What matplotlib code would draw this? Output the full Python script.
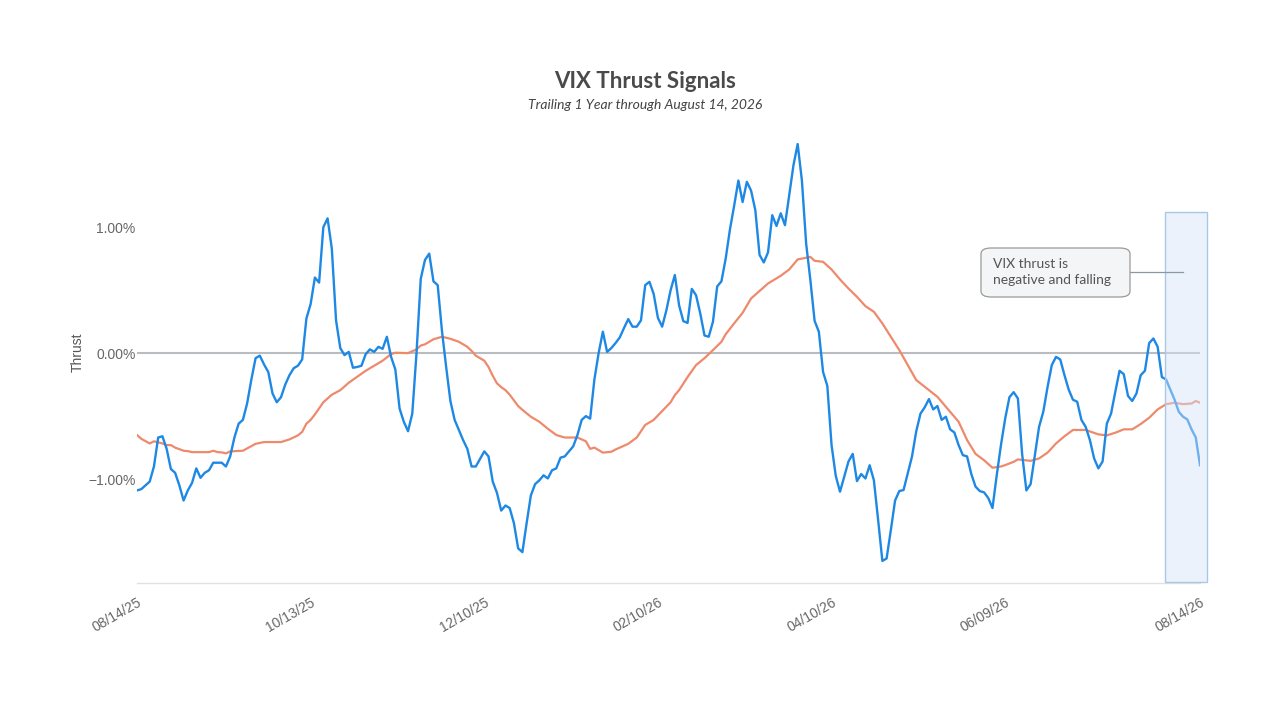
import matplotlib
matplotlib.use("Agg")
import matplotlib.pyplot as plt
from matplotlib.patches import Rectangle, FancyBboxPatch
from matplotlib.lines import Line2D
from matplotlib.ticker import FuncFormatter

# ---------------- data ----------------
tick_idx = [0, 41, 82, 123, 164, 205, 251]
tick_labels = ["08/14/25", "10/13/25", "12/10/25", "02/10/26", "04/10/26", "06/09/26", "08/14/26"]

thrust = [
    -1.09, -1.08, -1.05, -1.02, -0.90, -0.67, -0.66, -0.76, -0.92, -0.95,
    -1.05, -1.17, -1.09, -1.03, -0.915, -0.99, -0.95, -0.93, -0.87, -0.87,
    -0.87, -0.90, -0.82, -0.67, -0.56, -0.53, -0.40, -0.21, -0.04, -0.02,
    -0.09, -0.15, -0.32, -0.39, -0.35, -0.25, -0.175, -0.12, -0.10, -0.05,
    0.275, 0.39, 0.60, 0.56, 1.00, 1.07, 0.83, 0.26, 0.04, -0.016,
    0.01, -0.116, -0.11, -0.10, -0.008, 0.03, 0.01, 0.05, 0.034, 0.13,
    -0.03, -0.13, -0.44, -0.545, -0.62, -0.48, 0.0, 0.59, 0.74, 0.79,
    0.57, 0.54, 0.18, -0.11, -0.38, -0.53, -0.61, -0.69, -0.76, -0.90,
    -0.90, -0.84, -0.78, -0.82, -1.02, -1.11, -1.25, -1.21, -1.23, -1.35,
    -1.55, -1.58, -1.35, -1.13, -1.04, -1.01, -0.97, -0.995, -0.93, -0.915,
    -0.83, -0.82, -0.78, -0.74, -0.65, -0.53, -0.50, -0.52, -0.21, 0.0,
    0.17, 0.01, 0.04, 0.08, 0.125, 0.20, 0.27, 0.21, 0.21, 0.26,
    0.54, 0.566, 0.47, 0.28, 0.21, 0.34, 0.50, 0.62, 0.38, 0.254,
    0.24, 0.51, 0.46, 0.315, 0.14, 0.13, 0.25, 0.53, 0.57, 0.75,
    0.98, 1.17, 1.37, 1.20, 1.36, 1.29, 1.135, 0.78, 0.72, 0.80,
    1.095, 1.01, 1.11, 1.016, 1.25, 1.49, 1.66, 1.37, 0.87, 0.58,
    0.256, 0.17, -0.15, -0.26, -0.73, -0.976, -1.10, -0.98, -0.86, -0.80,
    -1.016, -0.96, -0.995, -0.89, -1.01, -1.325, -1.65, -1.63, -1.405, -1.17,
    -1.095, -1.087, -0.955, -0.82, -0.62, -0.48, -0.43, -0.365, -0.447, -0.42,
    -0.53, -0.505, -0.605, -0.63, -0.73, -0.81, -0.82, -0.96, -1.06, -1.095,
    -1.105, -1.15, -1.23, -0.97, -0.73, -0.52, -0.35, -0.31, -0.36, -0.80,
    -1.09, -1.04, -0.81, -0.585, -0.465, -0.27, -0.095, -0.03, -0.05, -0.175,
    -0.29, -0.37, -0.386, -0.53, -0.585, -0.69, -0.836, -0.915, -0.86, -0.56,
    -0.48, -0.307, -0.14, -0.167, -0.34, -0.38, -0.32, -0.175, -0.14, 0.08,
    0.116, 0.05, -0.19, -0.21, -0.29, -0.37, -0.466, -0.505, -0.526, -0.605,
    -0.67, -0.89,
]
thrust_idx = list(range(len(thrust)))

avg_idx = [
    0, 1, 3, 4, 6, 7, 8, 9, 11, 12, 13, 17, 18, 19, 20, 21, 22, 25, 27, 28,
    30, 34, 36, 38, 39, 40, 41, 42, 44, 46, 48, 50, 52, 54, 56, 58, 60, 61, 64, 66,
    67, 68, 70, 72, 74, 76, 78, 79, 80, 82, 83, 84, 85, 86, 87, 88, 90, 91, 93, 95,
    97, 99, 101, 104, 106, 107, 108, 110, 112, 113, 116, 118, 120, 122, 124, 126, 127, 128, 130, 132,
    134, 136, 138, 139, 141, 143, 145, 147, 149, 152, 154, 156, 159, 160, 162, 164, 166, 168, 170, 172,
    174, 176, 178, 180, 182, 184, 187, 189, 191, 194, 196, 198, 200, 202, 204, 205, 207, 208, 211, 213,
    215, 217, 219, 221, 224, 227, 229, 231, 233, 235, 237, 239, 241, 243, 245, 247, 249, 250, 251,
]
avg = [
    -0.65, -0.68, -0.717, -0.70, -0.717, -0.73, -0.73, -0.75, -0.775, -0.778, -0.786, -0.786, -0.775, -0.786, -0.788, -0.796, -0.78, -0.775, -0.738, -0.72,
    -0.706, -0.706, -0.685, -0.653, -0.625, -0.56, -0.53, -0.487, -0.39, -0.33, -0.294, -0.235, -0.188, -0.14, -0.10, -0.06, -0.008, 0.003, 0.0, 0.03,
    0.06, 0.07, 0.11, 0.13, 0.114, 0.09, 0.05, 0.018, -0.02, -0.06, -0.11, -0.18, -0.24, -0.27, -0.294, -0.33, -0.42, -0.45, -0.505, -0.545,
    -0.60, -0.65, -0.67, -0.67, -0.70, -0.76, -0.75, -0.79, -0.783, -0.765, -0.72, -0.67, -0.57, -0.53, -0.46, -0.39, -0.333, -0.294, -0.19, -0.095,
    -0.04, 0.024, 0.09, 0.15, 0.236, 0.32, 0.434, 0.494, 0.553, 0.614, 0.664, 0.744, 0.764, 0.733, 0.725, 0.664, 0.585, 0.513, 0.447, 0.373,
    0.328, 0.236, 0.13, 0.024, -0.095, -0.214, -0.294, -0.347, -0.426, -0.545, -0.69, -0.80, -0.85, -0.91, -0.90, -0.889, -0.863, -0.844, -0.855, -0.836,
    -0.79, -0.717, -0.66, -0.61, -0.61, -0.645, -0.653, -0.632, -0.605, -0.605, -0.563, -0.513, -0.447, -0.405, -0.394, -0.405, -0.40, -0.38, -0.394,
]

highlight_start = 242.7
highlight_end = 252.6
highlight_top = 1.12

title = "VIX Thrust Signals"
subtitle = "Trailing 1 Year through August 14, 2026"
note = "VIX thrust is\nnegative and falling"

# ---------------- figure ----------------
W, H = 1280, 720
fig = plt.figure(figsize=(12.8, 7.2), dpi=100)
fig.patch.set_facecolor("white")
ax = fig.add_axes([137 / W, 1 - 583 / H, (1200 - 137) / W, (583 - 139) / H])
ax.set_xlim(0, 251)
ax.set_ylim(-1.825, 1.70)

ax.axhline(0, color="#b9bcc0", lw=1.5, zorder=1)
ax.plot(avg_idx, avg, color="#ee8a6c", lw=1.6, zorder=2)
ax.plot(thrust_idx, thrust, color="#1e88e5", lw=1.7, zorder=3)

# highlight band (translucent overlay on top of lines)
ylo = -1.817
ax.add_patch(Rectangle((highlight_start, ylo), highlight_end - highlight_start, highlight_top - ylo,
                       facecolor="#d3e3f8", alpha=0.45, edgecolor="none", zorder=4, clip_on=False))
ax.add_patch(Rectangle((highlight_start, ylo), highlight_end - highlight_start, highlight_top - ylo,
                       facecolor="none", edgecolor="#a8c8e6", lw=1.0, zorder=5, clip_on=False))

for s in ["top", "right", "left"]:
    ax.spines[s].set_visible(False)
ax.spines["bottom"].set_color("#dfe1e4")
ax.spines["bottom"].set_linewidth(1.0)

ax.set_yticks([-1, 0, 1])
ax.yaxis.set_major_formatter(FuncFormatter(lambda v, p: f"{v:.2f}%".replace("-", "\u2212")))
ax.set_xticks(tick_idx)
ax.set_xticklabels(tick_labels)
ax.tick_params(axis="both", length=0, labelsize=10, labelcolor="#666666")
ax.tick_params(axis="y", pad=1)
ax.tick_params(axis="x", pad=9)
for lab in ax.get_xticklabels():
    lab.set_rotation(30)
    lab.set_ha("right")
    lab.set_va("top")
    lab.set_rotation_mode("anchor")
for lab in ax.get_xticklabels() + ax.get_yticklabels():
    lab.set_family("Liberation Sans")

fig.text(78 / W, 1 - 352 / H, "Thrust", rotation=90, ha="center", va="center",
         fontsize=10, color="#555555", family="Liberation Sans")

fig.text(645 / W, 1 - 82 / H, title, ha="center", va="center", fontsize=16,
         fontweight="bold", color="#4a4a4a", family="Lato")
fig.text(645 / W, 1 - 105 / H, subtitle, ha="center", va="center", fontsize=10,
         style="italic", color="#444444", family="Lato")

# annotation
bx0, bx1, by0, by1 = 981, 1130, 248, 297
fig.patches.append(FancyBboxPatch((bx0 / W, 1 - by1 / H), (bx1 - bx0) / W, (by1 - by0) / H,
                                  boxstyle="round,pad=0,rounding_size=0.008",
                                  transform=fig.transFigure, facecolor="#f4f5f6",
                                  edgecolor="#9a9a9a", lw=0.9, zorder=10))
fig.lines.append(Line2D([bx1 / W, 1183 / W], [1 - 272 / H, 1 - 272 / H], transform=fig.transFigure,
                        color="#8a97a6", lw=0.9, zorder=10))
fig.text(993 / W, 1 - 272 / H, note, ha="left", va="center", fontsize=10, color="#555555",
         family="Lato", linespacing=1.35, zorder=11)

fig.savefig("out.png", dpi=100, facecolor="white")
